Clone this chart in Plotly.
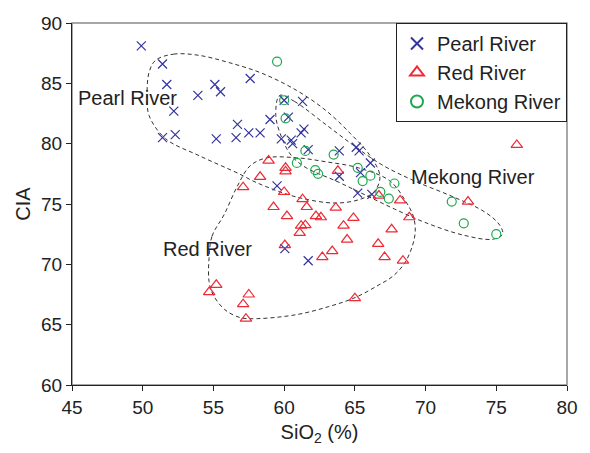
import plotly.graph_objects as go

# ---------------- data ----------------
pearl_sio2 = [49.9, 51.4, 51.7, 52.2, 53.9, 55.1, 55.5, 57.6, 51.4, 52.3, 55.2, 56.7,
              56.6, 57.5, 58.3, 59.0, 60.0, 61.3, 60.3, 61.4, 61.2, 59.8, 60.5, 60.6,
              61.7, 63.9, 65.1, 65.3, 66.1, 63.9, 65.4, 59.5, 65.2, 66.2, 60.05, 61.7]
pearl_cia = [88.1, 86.6, 84.9, 82.7, 84.0, 84.9, 84.3, 85.4, 80.5, 80.75, 80.4, 81.6,
             80.5, 80.9, 80.9, 82.0, 83.6, 83.5, 82.2, 81.2, 80.9, 80.4, 80.3, 80.0,
             79.5, 79.4, 79.7, 79.4, 78.4, 77.3, 77.6, 76.5, 75.9, 75.8, 71.3, 70.3]

red_sio2 = [57.1, 58.9, 60.1, 60.1, 58.3, 63.8, 60.0, 61.3, 66.7, 68.2, 76.45, 73.0,
            59.25, 61.6, 63.65, 60.2, 62.25, 62.6, 64.9, 68.85, 61.2, 61.5, 61.1, 64.2,
            67.6, 64.45, 66.65, 60.05, 63.4, 67.1, 62.7, 68.4, 55.2, 54.7, 57.5, 57.1,
            57.3, 65.0]
red_cia = [76.4, 78.6, 78.0, 77.7, 77.25, 77.75, 76.0, 75.4, 75.7, 75.3, 79.9, 75.2,
           74.75, 74.75, 74.7, 74.0, 74.0, 73.9, 73.85, 73.9, 73.2, 73.25, 72.6, 73.2,
           72.9, 72.05, 71.7, 71.6, 71.1, 70.6, 70.6, 70.3, 68.3, 67.7, 67.5, 66.7,
           65.5, 67.2]

mekong_sio2 = [59.5, 60.0, 60.1, 61.5, 63.5, 60.9, 62.2, 62.4, 65.2, 66.1, 65.55, 67.8,
               66.8, 67.4, 71.85, 72.7, 75.0]
mekong_cia = [86.8, 83.6, 82.1, 79.4, 79.1, 78.4, 77.8, 77.5, 78.0, 77.35, 76.9, 76.7,
              76.0, 75.45, 75.2, 73.4, 72.5]

# group envelopes (closed dashed outlines), data units
pearl_env_x = [50.92, 52.19, 53.92, 56.01, 58.44, 60.87, 62.95, 64.69, 66.08, 66.77, 66.42,
               65.45, 63.65, 60.87, 58.09, 56.82, 54.0, 51.61, 50.45, 50.31, 50.45, 50.92]
pearl_env_y = [86.92, 87.42, 87.33, 86.75, 85.83, 84.42, 82.75, 80.83, 79.0, 77.33, 76.08,
               75.42, 75.08, 75.58, 76.75, 77.5, 79.0, 80.42, 82.33, 84.0, 85.92, 86.92]

mekong_env_x = [59.69, 60.73, 62.95, 65.03, 66.91, 69.2, 71.98, 74.2, 75.24, 75.45, 74.76,
                72.67, 69.9, 67.81, 65.73, 63.65, 61.56, 60.52, 59.83, 59.41, 59.69]
mekong_env_y = [84.0, 83.5, 81.58, 79.75, 78.25, 76.92, 75.58, 74.33, 73.25, 72.5, 72.08,
                72.42, 73.5, 74.58, 75.75, 76.92, 78.0, 79.0, 80.5, 82.33, 84.0]

red_env_x = [54.69, 54.9, 55.78, 56.7, 57.6, 58.78, 60.87, 62.95, 65.24, 67.47, 68.58,
             69.13, 69.27, 69.06, 68.51, 67.67, 66.63, 65.03, 63.16, 60.87, 58.09, 56.91,
             55.8, 54.97, 54.69, 54.69]
red_env_y = [70.5, 72.33, 74.17, 76.5, 78.17, 78.83, 78.83, 78.5, 78.0, 76.92, 75.25,
             74.0, 72.75, 71.5, 70.08, 69.0, 68.25, 67.25, 66.5, 65.83, 65.5, 65.58,
             66.25, 67.5, 68.58, 70.5]

labels = ["Pearl River", "Red River", "Mekong River"]
label_x = [45.3, 51.26, 68.85]
label_y = [83.75, 71.28, 77.24]

x_ticks = [45, 50, 55, 60, 65, 70, 75, 80]
y_ticks = [60, 65, 70, 75, 80, 85, 90]

# ---------------- figure ----------------
FONT = "Liberation Sans, Arial, Helvetica, sans-serif"
fig = go.Figure()

for ex, ey in [(pearl_env_x, pearl_env_y), (red_env_x, red_env_y), (mekong_env_x, mekong_env_y)]:
    fig.add_trace(go.Scatter(
        x=ex, y=ey, mode="lines", showlegend=False, hoverinfo="skip",
        line=dict(color="#333333", width=1, dash="4px,3px", shape="spline", smoothing=1.0)))

fig.add_trace(go.Scatter(
    x=pearl_sio2, y=pearl_cia, mode="markers", name=labels[0],
    marker=dict(symbol="x-thin-open", size=9, color="#33339f",
                line=dict(color="#33339f", width=1.2))))
fig.add_trace(go.Scatter(
    x=red_sio2, y=red_cia, mode="markers", name=labels[1],
    marker=dict(symbol="triangle-up-open", size=10, color="#ee2a35",
                line=dict(color="#ee2a35", width=1.2))))
fig.add_trace(go.Scatter(
    x=mekong_sio2, y=mekong_cia, mode="markers", name=labels[2],
    marker=dict(symbol="circle-open", size=9, color="#1ea84f",
                line=dict(color="#1ea84f", width=1.2))))

for t, lx, ly in zip(labels, label_x, label_y):
    fig.add_annotation(x=lx, y=ly, text=t, showarrow=False, xanchor="left", yanchor="middle",
                       font=dict(family=FONT, size=20, color="#222222"))

# gray frame (top/right)
fig.add_shape(type="rect", xref="paper", yref="paper", x0=0, y0=0, x1=1, y1=1,
              line=dict(color="#8a8a8a", width=1.5), layer="below")

fig.update_layout(
    width=590, height=453,
    margin=dict(l=72, r=14, t=23, b=68),
    paper_bgcolor="white", plot_bgcolor="white",
    font=dict(family=FONT, size=19, color="#222222"),
    showlegend=True,
    legend=dict(x=1, y=1, xanchor="right", yanchor="top",
                bgcolor="white", bordercolor="#222222", borderwidth=1,
                font=dict(family=FONT, size=20, color="#222222"),
                itemsizing="constant", tracegroupgap=0, itemwidth=30),
    xaxis=dict(range=[45, 80], tickvals=x_ticks, showgrid=False, zeroline=False,
               showline=True, linecolor="#222222", linewidth=1, ticks="outside",
               ticklen=5, tickcolor="#222222",
               title=dict(text="SiO<sub>2</sub> (%)", font=dict(size=20), standoff=8)),
    yaxis=dict(range=[60, 90], tickvals=y_ticks, showgrid=False, zeroline=False,
               showline=True, linecolor="#222222", linewidth=1, ticks="outside",
               ticklen=5, tickcolor="#222222",
               title=dict(text="CIA", font=dict(size=20), standoff=5)),
)

fig.write_html("out.html")
